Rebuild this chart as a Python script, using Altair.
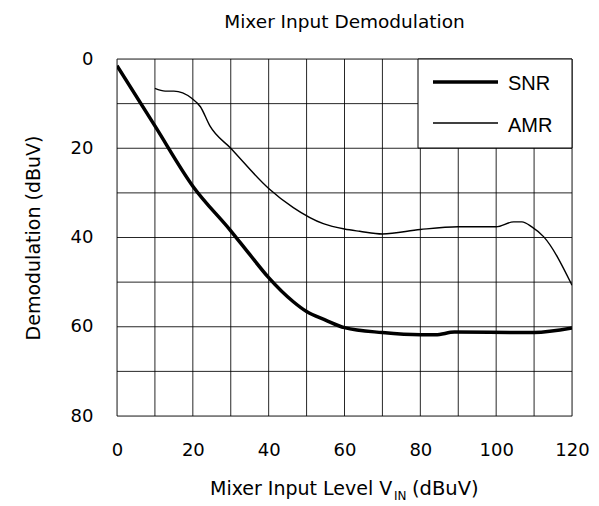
import altair as alt
import pandas as pd

snr_x = [0, 10, 20, 30, 35, 40, 46.5, 50, 55, 60, 70, 80, 84, 89, 110, 120]
snr_y = [1.5, 15, 28.5, 38.5, 43.8, 49, 54.4, 56.6, 58.5, 60.2, 61.3, 61.8, 61.8, 61.2, 61.3, 60.3]

amr_x = [10, 12.7, 15, 19.7, 22, 24.5, 30, 40, 46.5, 54.4, 60, 64, 70, 80, 90, 100, 104.6, 106.8, 109.4, 112.5, 120]
amr_y = [6.6, 7.2, 7.2, 8.8, 10.7, 15.0, 20.0, 29.0, 33.3, 36.9, 38.1, 38.6, 39.2, 38.2, 37.6, 37.6, 36.5, 36.5, 37.6, 39.8, 50.7]

x_grid = list(range(0, 121, 10))
y_grid = list(range(0, 81, 10))
x_labels = list(range(0, 121, 20))
y_labels = list(range(0, 81, 20))
legend_labels = ["SNR", "AMR"]

FONT = "DejaVu Sans"
W, H = 455, 357

df = pd.concat([
    pd.DataFrame({"x": snr_x, "y": snr_y, "s": "SNR"}),
    pd.DataFrame({"x": amr_x, "y": amr_y, "s": "AMR"}),
])

xs = alt.Scale(domain=[0, 120], nice=False, zero=False)
ys = alt.Scale(domain=[0, 80], reverse=True, nice=False, zero=False)

xaxis = alt.Axis(values=x_labels, grid=False, ticks=False, domain=False,
                 labelFont=FONT, labelFontSize=18, labelColor="black",
                 labelPadding=25, labelFlush=False, title=None)
yaxis = alt.Axis(values=y_labels, grid=False, ticks=False, domain=False,
                 labelFont=FONT, labelFontSize=18, labelColor="black",
                 labelPadding=24, labelFlush=False,
                 title="Demodulation (dBuV)", titleFont=FONT, titleFontSize=19,
                 titleFontWeight="normal", titleColor="black", titlePadding=27)

X = lambda f: alt.X(f, scale=xs, axis=xaxis)
Y = lambda f: alt.Y(f, scale=ys, axis=yaxis)

vgrid = alt.Chart(pd.DataFrame({"g": x_grid})).mark_rule(color="black", strokeWidth=1, opacity=0.85).encode(
    x=X("g:Q"))
hgrid = alt.Chart(pd.DataFrame({"g": y_grid})).mark_rule(color="black", strokeWidth=1, opacity=0.85).encode(
    y=Y("g:Q"))

base = alt.Chart(df)
snr = base.transform_filter("datum.s == 'SNR'").mark_line(
    color="black", strokeWidth=3.5, interpolate="monotone", clip=True
).encode(x=X("x:Q"), y=Y("y:Q"))
amr = base.transform_filter("datum.s == 'AMR'").mark_line(
    color="black", strokeWidth=1.4, interpolate="monotone", clip=True
).encode(x=X("x:Q"), y=Y("y:Q"))

one = pd.DataFrame({"a": [0]})
leg_box = alt.Chart(one).mark_rect(fill="white", stroke="black", strokeWidth=1).encode(
    x=alt.value(301), x2=alt.value(W), y=alt.value(0), y2=alt.value(89))
leg_snr = alt.Chart(one).mark_rule(color="black", strokeWidth=3.5).encode(
    x=alt.value(316), x2=alt.value(381), y=alt.value(23))
leg_amr = alt.Chart(one).mark_rule(color="black", strokeWidth=1.4).encode(
    x=alt.value(316), x2=alt.value(381), y=alt.value(64))
leg_t1 = alt.Chart(pd.DataFrame({"t": [legend_labels[0]]})).mark_text(
    font="Liberation Sans", fontSize=20, align="left", baseline="middle", color="black"
).encode(x=alt.value(391), y=alt.value(25), text="t:N")
leg_t2 = alt.Chart(pd.DataFrame({"t": [legend_labels[1]]})).mark_text(
    font="Liberation Sans", fontSize=20, align="left", baseline="middle", color="black"
).encode(x=alt.value(391), y=alt.value(67), text="t:N")

# x-axis title with subscript
xt_main = alt.Chart(pd.DataFrame({"t": ["Mixer Input Level V"]})).mark_text(
    font=FONT, fontSize=19, align="left", baseline="alphabetic", color="black"
).encode(x=alt.value(93), y=alt.value(436), text="t:N")
xt_sub = alt.Chart(pd.DataFrame({"t": ["IN"]})).mark_text(
    font=FONT, fontSize=12, align="left", baseline="alphabetic", color="black"
).encode(x=alt.value(277), y=alt.value(441), text="t:N")
xt_end = alt.Chart(pd.DataFrame({"t": ["(dBuV)"]})).mark_text(
    font=FONT, fontSize=19.5, align="left", baseline="alphabetic", color="black"
).encode(x=alt.value(295), y=alt.value(436), text="t:N")

chart = alt.layer(vgrid, hgrid, snr, amr, leg_box, leg_snr, leg_amr, leg_t1, leg_t2,
                  xt_main, xt_sub, xt_end).properties(
    width=W, height=H,
    title=alt.TitleParams("Mixer Input Demodulation", font=FONT, fontSize=18.5,
                          fontWeight="normal", color="black", anchor="middle", offset=19),
    autosize=alt.AutoSizeParams(type="none"),
    padding={"left": 117, "top": 59, "right": 27, "bottom": 90},
).configure_view(stroke="black", strokeWidth=1.2).configure(background="white")

chart.save("out.html", embed_options={"renderer": "svg", "actions": False})
